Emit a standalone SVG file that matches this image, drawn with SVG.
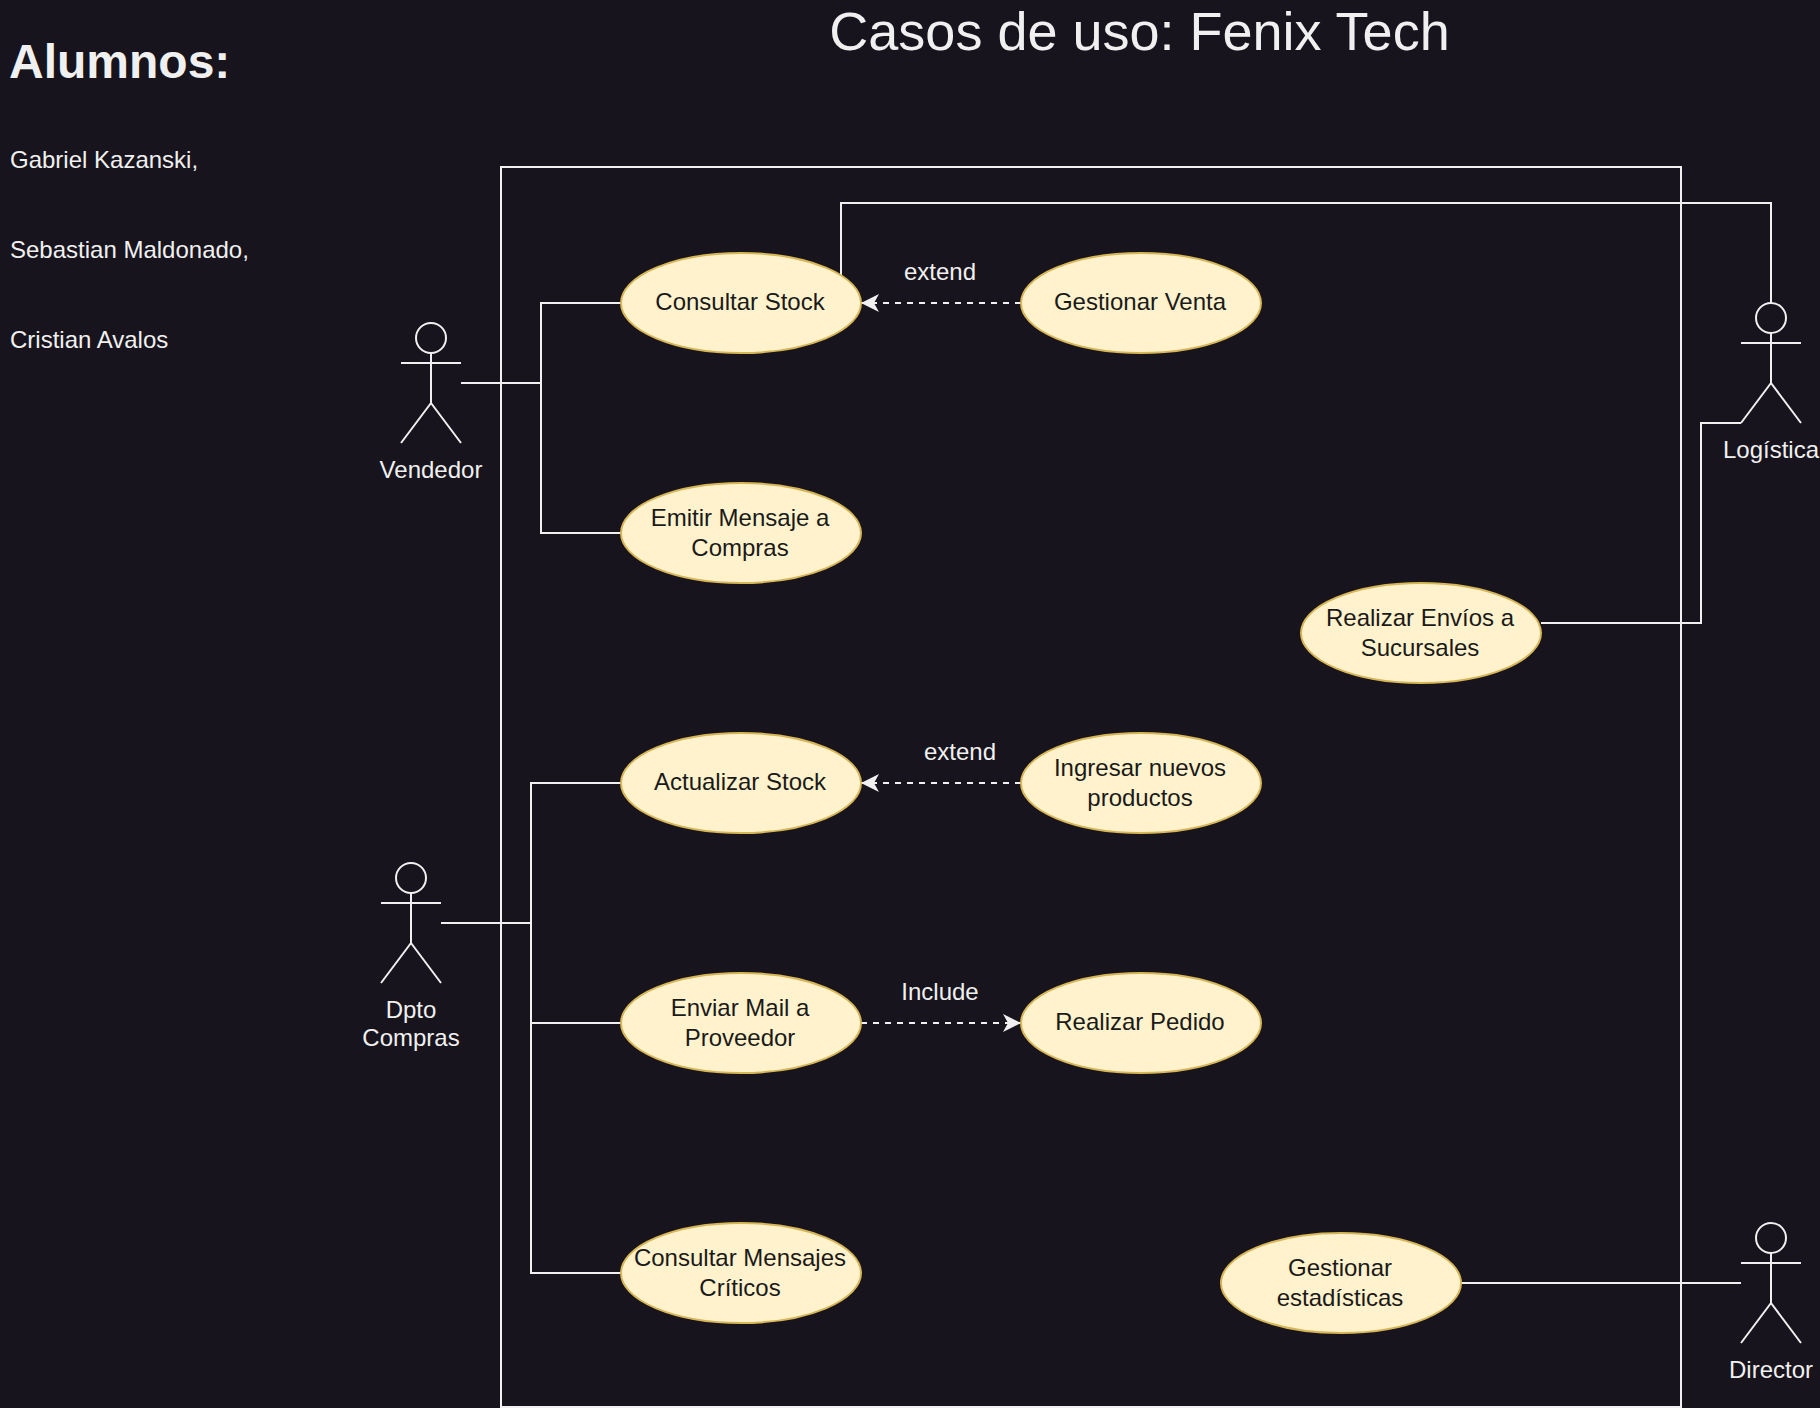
<svg xmlns="http://www.w3.org/2000/svg" width="1820" height="1408" viewBox="0 0 1820 1408">
<style>
text{font-family:"Liberation Sans",Arial,sans-serif;font-size:24px;text-anchor:middle}
.lt{fill:#f0f0f0}
.dk{fill:#1a1a1a}
.l{text-anchor:start}
.uc{fill:#fff2cc;stroke:#d6b656;stroke-width:2}
.ln{fill:none;stroke:#f0f0f0;stroke-width:2}
.ds{fill:none;stroke:#f0f0f0;stroke-width:2;stroke-dasharray:6 6}
</style>
<defs>
<marker id="arr" markerUnits="userSpaceOnUse" markerWidth="20" markerHeight="20" refX="18" refY="10" orient="auto"><path d="M0 1L18 10L0 19L5 10Z" fill="#f0f0f0"/></marker>
<g id="stick"><ellipse cx="30" cy="15" rx="15" ry="15" class="ln"/><path class="ln" d="M30 30V80M0 40H60M30 80L0 120M30 80L60 120"/></g>
</defs>
<rect width="1820" height="1408" fill="#18141d"/>
<g id="title"><text class="lt" x="1139.5" y="50" style="font-size:54px">Casos de uso: Fenix Tech</text></g>
<g id="alumnos" class="lt">
<text class="lt l" x="9" y="77.5" style="font-size:48px;font-weight:bold">Alumnos:</text>
<text class="lt l" x="10" y="168">Gabriel Kazanski,</text>
<text class="lt l" x="10" y="258">Sebastian Maldonado,</text>
<text class="lt l" x="10" y="348">Cristian Avalos</text>
</g>
<g id="system"><rect x="501" y="167" width="1180" height="1240" class="ln"/></g>
<g id="connectors">
<path class="ln" d="M461 383H541V303H621"/>
<path class="ln" d="M541 383V533H621"/>
<path class="ln" d="M441 923H531V783H621"/>
<path class="ln" d="M531 923V1023H621"/>
<path class="ln" d="M531 1023V1273H621"/>
<path class="ln" d="M841 275V203H1771V303"/>
<path class="ln" d="M1541 623H1701V423H1741"/>
<path class="ln" d="M1461 1283H1741"/>
<path class="ds" d="M1021 303H861" marker-end="url(#arr)"/>
<path class="ds" d="M1021 783H861" marker-end="url(#arr)"/>
<path class="ds" d="M861 1023H1021" marker-end="url(#arr)"/>
<text class="lt" x="940" y="280">extend</text>
<text class="lt" x="960" y="760">extend</text>
<text class="lt" x="940" y="1000">Include</text>
</g>
<g id="vendedor"><use href="#stick" x="401" y="323"/><text class="lt" x="431" y="478">Vendedor</text></g>
<g id="dpto-compras"><use href="#stick" x="381" y="863"/><text class="lt" x="411" y="1018">Dpto</text><text class="lt" x="411" y="1046">Compras</text></g>
<g id="logistica"><use href="#stick" x="1741" y="303"/><text class="lt" x="1771" y="458">Logística</text></g>
<g id="director"><use href="#stick" x="1741" y="1223"/><text class="lt" x="1771" y="1378">Director</text></g>
<g id="consultar-stock"><ellipse class="uc" cx="741" cy="303" rx="120" ry="50"/><text class="dk" x="740" y="310">Consultar Stock</text></g>
<g id="gestionar-venta"><ellipse class="uc" cx="1141" cy="303" rx="120" ry="50"/><text class="dk" x="1140" y="310">Gestionar Venta</text></g>
<g id="emitir-mensaje"><ellipse class="uc" cx="741" cy="533" rx="120" ry="50"/><text class="dk" x="740" y="526">Emitir Mensaje a</text><text class="dk" x="740" y="556">Compras</text></g>
<g id="realizar-envios"><ellipse class="uc" cx="1421" cy="633" rx="120" ry="50"/><text class="dk" x="1420" y="626">Realizar Envíos a</text><text class="dk" x="1420" y="656">Sucursales</text></g>
<g id="actualizar-stock"><ellipse class="uc" cx="741" cy="783" rx="120" ry="50"/><text class="dk" x="740" y="790">Actualizar Stock</text></g>
<g id="ingresar-productos"><ellipse class="uc" cx="1141" cy="783" rx="120" ry="50"/><text class="dk" x="1140" y="776">Ingresar nuevos</text><text class="dk" x="1140" y="806">productos</text></g>
<g id="enviar-mail"><ellipse class="uc" cx="741" cy="1023" rx="120" ry="50"/><text class="dk" x="740" y="1016">Enviar Mail a</text><text class="dk" x="740" y="1046">Proveedor</text></g>
<g id="realizar-pedido"><ellipse class="uc" cx="1141" cy="1023" rx="120" ry="50"/><text class="dk" x="1140" y="1030">Realizar Pedido</text></g>
<g id="consultar-mensajes"><ellipse class="uc" cx="741" cy="1273" rx="120" ry="50"/><text class="dk" x="740" y="1266">Consultar Mensajes</text><text class="dk" x="740" y="1296">Críticos</text></g>
<g id="gestionar-estadisticas"><ellipse class="uc" cx="1341" cy="1283" rx="120" ry="50"/><text class="dk" x="1340" y="1276">Gestionar</text><text class="dk" x="1340" y="1306">estadísticas</text></g>
</svg>
